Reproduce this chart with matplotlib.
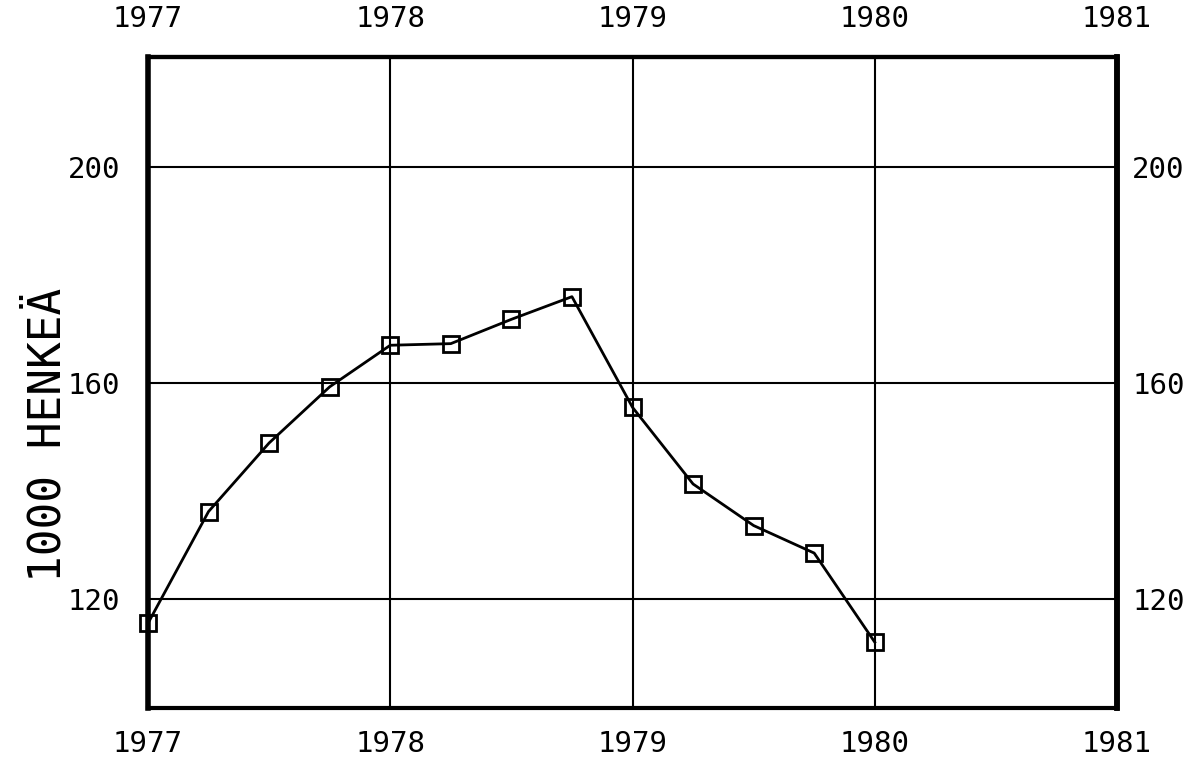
import matplotlib
matplotlib.use("Agg")
import matplotlib.pyplot as plt

# quarterly data, 1977-1980
years = [1977.0, 1977.25, 1977.5, 1977.75, 1978.0, 1978.25, 1978.5, 1978.75,
         1979.0, 1979.25, 1979.5, 1979.75, 1980.0]
values = [115.5, 136.2, 148.9, 159.3, 167.0, 167.3, 171.8, 176.0,
          155.5, 141.3, 133.6, 128.5, 112.0]

x_ticks = [1977, 1978, 1979, 1980, 1981]
y_ticks = [120, 160, 200]
y_label = "1000 HENKEÄ"

plt.rcParams['font.family'] = ['DejaVu Sans Mono']

fig = plt.figure(figsize=(12.02, 7.59), dpi=100, facecolor='white')
axis = fig.add_axes([148 / 1202, 1 - 708 / 759, 969 / 1202, 651 / 759])

axis.plot(years, values, color='black', linewidth=2, marker='s', markersize=11,
          markerfacecolor='none', markeredgecolor='black', markeredgewidth=2,
          zorder=3, clip_on=False)

axis.set_xlim(1977, 1981)
axis.set_ylim(99.8, 220.4)
axis.set_xticks(x_ticks)
axis.set_yticks(y_ticks)
axis.set_xticklabels([str(t) for t in x_ticks])
axis.set_yticklabels([str(t) for t in y_ticks])
axis.grid(True, color='black', linewidth=1.5)
axis.set_axisbelow(True)

axis.tick_params(axis='both', length=0, labelsize=21)
axis.tick_params(axis='x', pad=16)
axis.tick_params(axis='y', pad=20)

# labels on top and right side, same ticks
top = axis.secondary_xaxis('top')
top.set_xticks(x_ticks)
top.set_xticklabels([str(t) for t in x_ticks])
top.tick_params(length=0, labelsize=21, pad=17)
top.spines['top'].set_linewidth(3)

right = axis.secondary_yaxis('right')
right.set_yticks(y_ticks)
right.set_yticklabels([str(t) for t in y_ticks])
right.tick_params(length=0, labelsize=21, pad=11)
right.spines['right'].set_linewidth(4)

for side in ['left', 'right']:
    axis.spines[side].set_linewidth(4)
for side in ['top', 'bottom']:
    axis.spines[side].set_linewidth(3)

fig.text(48 / 1202, 1 - 435 / 759, y_label, rotation=90, ha='center', va='center',
         fontsize=32)

fig.savefig("out.png", dpi=100, facecolor='white')
